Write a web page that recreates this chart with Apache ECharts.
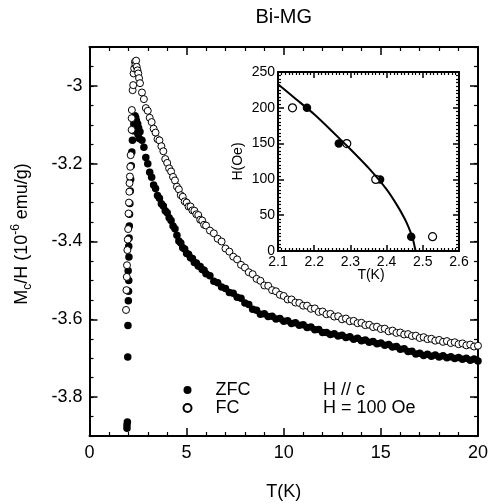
<!DOCTYPE html>
<html><head><meta charset="utf-8">
<script src="https://cdn.jsdelivr.net/npm/echarts@6/dist/echarts.min.js"></script>
<style>html,body{margin:0;padding:0;background:#fff}#wrap{position:relative;width:491px;height:504px}#c,#ins{position:absolute;left:0;top:0;width:491px;height:504px}</style>
</head><body><div id="wrap"><div id="c"></div><div id="ins"></div></div>
<script>
// ---- Main panel data: ZFC (filled) ----
const zfcT = [1.93,1.93,1.95,1.97,1.98,2.00,2.01,2.02,1.99,2.03,2.02,2.04,2.05,2.06,2.08,2.10,2.12,2.15,2.18,2.21,2.25,
  2.28,2.31,2.34,2.36,2.38,2.40,2.42,2.45,2.48,2.50,2.53,2.56,
  2.6,2.7,2.8,2.9,3.0,3.1,3.2,3.3,3.4,3.5,3.6,3.7,3.8,3.9,4.0,4.1,4.2,4.3,4.4,4.5,4.6,4.7,4.8,4.9,
  5.0,5.1,5.2,5.3,5.4,5.5,5.6,5.7,5.8,5.9,6.0,6.2,6.4,6.6,6.8,7.0,7.2,7.4,7.6,7.8,
  8.0,8.2,8.4,8.6,8.8,9.0,9.2,9.4,9.6,9.8,10.0,10.2,10.4,10.6,10.8,11.0,11.2,11.4,11.6,11.8,
  12.0,12.2,12.4,12.6,12.8,13.0,13.2,13.4,13.6,13.8,14.0,14.2,14.4,14.6,14.8,15.0,15.2,15.4,15.6,15.8,
  16.0,16.2,16.4,16.6,16.8,17.0,17.2,17.4,17.6,17.8,18.0,18.2,18.4,18.6,18.8,19.0,19.2,19.4,19.6,19.8,20.0];
const zfcM = [-3.880,-3.872,-3.864,-3.697,-3.616,-3.552,-3.528,-3.500,-3.475,-3.440,-3.412,-3.391,-3.360,-3.330,-3.302,-3.270,-3.240,-3.205,-3.170,-3.140,-3.115,
  -3.098,-3.085,-3.077,-3.092,-3.082,-3.105,-3.090,-3.118,-3.098,-3.125,-3.108,-3.135,
  -3.118,-3.140,-3.158,-3.184,-3.200,-3.222,-3.235,-3.255,-3.264,-3.282,-3.289,-3.303,-3.309,-3.321,-3.326,-3.339,-3.346,-3.360,-3.367,-3.384,-3.399,-3.404,-3.416,-3.419,
  -3.431,-3.433,-3.442,-3.444,-3.454,-3.455,-3.463,-3.464,-3.472,-3.474,-3.483,-3.488,-3.502,-3.506,-3.517,-3.521,-3.531,-3.533,-3.543,-3.546,
  -3.558,-3.562,-3.574,-3.577,-3.587,-3.586,-3.593,-3.592,-3.599,-3.598,-3.605,-3.604,-3.611,-3.609,-3.615,-3.614,-3.621,-3.620,-3.627,-3.626,
  -3.634,-3.634,-3.639,-3.637,-3.643,-3.641,-3.647,-3.645,-3.651,-3.649,-3.655,-3.653,-3.659,-3.657,-3.663,-3.661,-3.667,-3.665,-3.671,-3.670,
  -3.677,-3.676,-3.683,-3.682,-3.689,-3.687,-3.693,-3.690,-3.695,-3.692,-3.697,-3.694,-3.699,-3.696,-3.701,-3.698,-3.703,-3.700,-3.705,-3.702,-3.707];

// ---- Main panel data: FC (open) ----
const fcT = [1.88,1.90,1.92,1.93,1.95,1.97,1.99,2.01,2.03,2.05,2.06,2.08,2.10,2.12,2.17,2.17,2.18,2.22,2.25,2.27,2.30,2.34,2.37,2.40,2.43,2.47,2.51,2.55,
  2.6,2.7,2.8,2.9,3.0,3.1,3.2,3.3,3.4,3.5,3.6,3.7,3.8,3.9,4.0,4.1,4.2,4.3,4.4,4.5,4.6,4.7,4.8,4.9,
  5.0,5.1,5.2,5.3,5.4,5.5,5.6,5.7,5.8,5.9,6.0,6.2,6.4,6.6,6.8,7.0,7.2,7.4,7.6,7.8,
  8.0,8.2,8.4,8.6,8.8,9.0,9.2,9.4,9.6,9.8,10.0,10.2,10.4,10.6,10.8,11.0,11.2,11.4,11.6,11.8,
  12.0,12.2,12.4,12.6,12.8,13.0,13.2,13.4,13.6,13.8,14.0,14.2,14.4,14.6,14.8,15.0,15.2,15.4,15.6,15.8,
  16.0,16.2,16.4,16.6,16.8,17.0,17.2,17.4,17.6,17.8,18.0,18.2,18.4,18.6,18.8,19.0,19.2,19.4,19.6,19.8,20.0];
const fcM = [-3.576,-3.525,-3.491,-3.461,-3.422,-3.395,-3.368,-3.328,-3.300,-3.272,-3.250,-3.233,-3.208,-3.178,-3.113,-3.083,-3.062,-3.011,-2.998,-2.968,-2.955,-2.938,-2.945,-2.935,-2.951,-2.960,-2.968,-2.980,
  -2.993,-3.017,-3.034,-3.057,-3.064,-3.082,-3.093,-3.110,-3.120,-3.137,-3.140,-3.155,-3.168,-3.188,-3.198,-3.212,-3.220,-3.234,-3.243,-3.259,-3.266,-3.281,-3.285,-3.297,
  -3.300,-3.310,-3.310,-3.320,-3.321,-3.330,-3.332,-3.344,-3.346,-3.357,-3.359,-3.372,-3.379,-3.393,-3.400,-3.418,-3.426,-3.439,-3.446,-3.460,
  -3.467,-3.479,-3.484,-3.496,-3.501,-3.513,-3.514,-3.525,-3.528,-3.537,-3.540,-3.549,-3.549,-3.557,-3.558,-3.565,-3.565,-3.573,-3.572,-3.581,
  -3.580,-3.587,-3.586,-3.593,-3.592,-3.600,-3.598,-3.605,-3.604,-3.610,-3.609,-3.615,-3.614,-3.620,-3.619,-3.625,-3.624,-3.631,-3.629,-3.635,
  -3.634,-3.639,-3.638,-3.643,-3.642,-3.648,-3.646,-3.651,-3.650,-3.655,-3.653,-3.658,-3.656,-3.661,-3.659,-3.664,-3.662,-3.667,-3.665,-3.670,-3.668];

// ---- Inset data ----
const insetZfcT = [2.18, 2.268, 2.382, 2.468];
const insetZfcH = [200, 150, 100, 20];
const insetFcT = [2.14, 2.29, 2.37, 2.527];
const insetFcH = [200, 150, 100, 20];
const fitT = [2.10, 2.15, 2.20, 2.25, 2.30, 2.35, 2.40, 2.43, 2.45, 2.46, 2.47, 2.475, 2.48];
const fitH = [233, 212, 191, 167, 142, 116, 86, 63, 45, 34, 21, 12, 0];

// ---- Tick values ----
const yLabelVals = [-3.8, -3.6, -3.4, -3.2, -3.0];

const zip = (a, b) => a.map((v, i) => [v, b[i]]);
const FONT = '"Liberation Sans", Arial, Helvetica, sans-serif';
const K = '#000';

function ax(pos, min, max, interval, minorSplit, majorLen, minorLen, label) {
  return {
    type: 'value', gridIndex: 0, position: pos, min: min, max: max, interval: interval,
    axisLine: {show: true, onZero: false, lineStyle: {color: K, width: 2}},
    axisTick: {show: true, inside: true, length: majorLen, lineStyle: {color: K, width: 1.5}},
    minorTick: {show: true, splitNumber: minorSplit, length: minorLen, lineStyle: {color: K, width: 1.2}},
    splitLine: {show: false}, minorSplitLine: {show: false},
    axisLabel: label ? Object.assign({show: true, color: K, fontFamily: FONT}, label) : {show: false}
  };
}
function decoY(pos, withLine, customVals, len, interval) {
  const a = {
    type: 'value', gridIndex: 0, position: pos, min: -3.9, max: -2.9,
    axisLine: {show: withLine, onZero: false, lineStyle: {color: K, width: 2}},
    axisTick: {show: true, inside: true, length: len, lineStyle: {color: K, width: len > 5 ? 1.5 : 1.2}},
    axisLabel: {show: false}, splitLine: {show: false}, minorSplitLine: {show: false}
  };
  if (customVals) a.axisTick.customValues = customVals;
  if (interval) a.interval = interval;
  return a;
}

const mainY = decoY('left', true, yLabelVals, 8);
mainY.axisLabel = {show: true, customValues: yLabelVals, color: K, fontFamily: FONT, fontSize: 18, margin: 7};

// ---------- Main chart (single grid) ----------
const chart = echarts.init(document.getElementById('c'), null, {renderer: 'canvas'});
chart.setOption({
  backgroundColor: '#fff',
  animation: false,
  title: {
    text: 'Bi-MG', left: 283.75, top: 7, textAlign: 'center', padding: 0,
    textStyle: {fontFamily: FONT, fontSize: 20, fontWeight: 'normal', color: K}
  },
  legend: {
    orient: 'vertical', left: 182.5, top: 381, padding: 0, itemGap: 0,
    itemWidth: 8, itemHeight: 8, icon: 'circle',
    data: ['ZFC', 'FC'],
    textStyle: {fontFamily: FONT, fontSize: 18, color: K, padding: [0, 0, 0, 19], lineHeight: 18}
  },
  graphic: [
    {type: 'text', left: 323, top: 381, style: {text: 'H // c', font: '18px ' + FONT, fill: K}},
    {type: 'text', left: 323, top: 399, style: {text: 'H = 100 Oe', font: '18px ' + FONT, fill: K}},
    {type: 'text', x: 283.75, y: 492, style: {text: 'T(K)', font: '18px ' + FONT, fill: K, align: 'center', verticalAlign: 'middle'}},
    {type: 'text', x: 22, y: 234, rotation: Math.PI / 2,
      style: {
        text: '{n|M}{sub|c}{n|/H (10}{sup|-6}{n| emu/g)}', align: 'center', verticalAlign: 'middle', fill: K,
        font: '18px ' + FONT,
        rich: {
          n: {fontFamily: FONT, fontSize: 18, fill: K, lineHeight: 24, verticalAlign: 'middle'},
          sub: {fontFamily: FONT, fontSize: 12, fill: K, lineHeight: 24, verticalAlign: 'bottom'},
          sup: {fontFamily: FONT, fontSize: 12, fill: K, lineHeight: 24, verticalAlign: 'top'}
        }
      }}
  ],
  grid: {left: 89.5, top: 47, width: 388.5, height: 389},
  xAxis: [
    ax('bottom', 0, 20, 5, 5, 8, 4, {fontSize: 18, margin: 8}),
    ax('top', 0, 20, 5, 5, 8, 4, null)
  ],
  yAxis: [
    mainY,
    decoY('left', false, null, 4, 0.05),
    decoY('right', true, yLabelVals, 8),
    decoY('right', false, null, 4, 0.05)
  ],
  series: [
    {
      name: 'ZFC', type: 'scatter', xAxisIndex: 0, yAxisIndex: 0,
      symbol: 'circle', symbolSize: 7.5,
      itemStyle: {color: K, borderWidth: 0, opacity: 1},
      data: zip(zfcT, zfcM)
    },
    {
      name: 'FC', type: 'scatter', xAxisIndex: 0, yAxisIndex: 0,
      symbol: 'circle', symbolSize: 7,
      itemStyle: {color: '#fff', borderColor: K, borderWidth: 1, opacity: 1},
      data: zip(fcT, fcM)
    }
  ]
});

// ---------- Inset chart (own instance, transparent overlay) ----------
const inset = echarts.init(document.getElementById('ins'), null, {renderer: 'canvas'});
inset.setOption({
  backgroundColor: 'transparent',
  animation: false,
  graphic: [
    {type: 'text', x: 371, y: 275, style: {text: 'T(K)', font: '14px ' + FONT, fill: K, align: 'center', verticalAlign: 'middle'}},
    {type: 'text', x: 238, y: 161.5, rotation: Math.PI / 2, style: {text: 'H(Oe)', font: '14px ' + FONT, fill: K, align: 'center', verticalAlign: 'middle'}}
  ],
  grid: {left: 278, top: 72, width: 181, height: 179},
  xAxis: [
    ax('bottom', 2.1, 2.6, 0.1, 10, 6, 3, {fontSize: 14, margin: 4}),
    ax('top', 2.1, 2.6, 0.1, 10, 6, 3, null)
  ],
  yAxis: [
    ax('left', 0, 250, 50, 10, 6, 3, {fontSize: 14, margin: 3}),
    ax('right', 0, 250, 50, 10, 6, 3, null)
  ],
  series: [
    {
      name: 'fit', type: 'line', xAxisIndex: 0, yAxisIndex: 0,
      showSymbol: false, smooth: 0.2,
      lineStyle: {color: K, width: 2},
      data: zip(fitT, fitH)
    },
    {
      name: 'ZFC inset', type: 'scatter', xAxisIndex: 0, yAxisIndex: 0,
      symbol: 'circle', symbolSize: 8.5,
      itemStyle: {color: K, borderWidth: 0, opacity: 1},
      data: zip(insetZfcT, insetZfcH)
    },
    {
      name: 'FC inset', type: 'scatter', xAxisIndex: 0, yAxisIndex: 0,
      symbol: 'circle', symbolSize: 8,
      itemStyle: {color: '#fff', borderColor: K, borderWidth: 1.2, opacity: 1},
      data: zip(insetFcT, insetFcH)
    }
  ]
});
</script>
</body></html>
